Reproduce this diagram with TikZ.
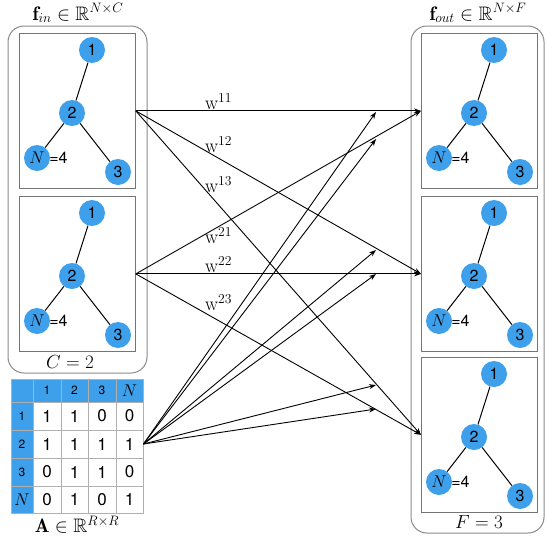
\RequirePackage{fix-cm}
\documentclass[tikz,border=0pt]{standalone}
\usepackage{amsmath,amssymb}
\usepackage{fontspec}
\setsansfont{TeX Gyre Heros}
\usetikzlibrary{arrows.meta,positioning,calc}
\definecolor{nodeblue}{HTML}{3E9FEB}
\definecolor{framegray}{HTML}{8A8A8A}
\definecolor{gridgray}{HTML}{B0B0B0}
\tikzset{
  outer/.style={draw=framegray, rounded corners=16pt, line width=1pt},
  panel/.style={draw=framegray!85!black, line width=0.8pt, minimum width=116pt, minimum height=155pt, inner sep=0pt, anchor=north west},
  vtx/.style={circle, fill=nodeblue, minimum size=26pt, inner sep=0pt, font=\sffamily\fontsize{16}{16}\selectfont},
  link/.style={black, line width=1pt},
  wire/.style={-{Stealth[length=7pt,width=5pt]}, black, line width=0.9pt},
  wlab/.style={font=\fontsize{19.5}{21}\selectfont, inner sep=1pt},
  mlab/.style={font=\fontsize{19}{21}\selectfont, inner sep=0pt},
  tlab/.style={font=\fontsize{19.5}{21}\selectfont, inner sep=0pt},
  cell/.style={minimum width=27.5pt, minimum height=28pt, inner sep=0pt, font=\sffamily\fontsize{17}{17}\selectfont},
  hcell/.style={inner sep=0pt, font=\sffamily\fontsize{12}{12}\selectfont},
}

\begin{document}
\begin{tikzpicture}[x=1pt,y=-1pt]
  \useasboundingbox (0,0) rectangle (546,541);

  % outer containers and their labels
  \draw[outer] (8,26) rectangle (147,373);
  \draw[outer] (411,26) rectangle (544,533);
  \node[tlab, anchor=base] (fin) at (78,20) {$\mathbf{f}_{in}\in\mathbb{R}^{N\times C}$};
  \node[tlab, anchor=base] (fout) at (478,20) {$\mathbf{f}_{out}\in\mathbb{R}^{N\times F}$};
  \node[mlab] (cnum) at (70,362) {$C=2$};
  \node[mlab] (fnum) at (479,522) {$F=3$};

  % one graph per channel
  \foreach \nm/\bx/\by in {L1/19/33, L2/19/196, R1/421/33, R2/421/196, R3/421/357}{
    \node[panel] (\nm) at (\bx,\by) {};
    \begin{scope}[shift={(\bx,\by)}]
      \node[vtx] (\nm-1) at (73,17) {1};
      \node[vtx] (\nm-2) at (53,80) {2};
      \node[vtx] (\nm-N) at (18,125) {\rmfamily\fontsize{17}{17}\selectfont$N$};
      \node[vtx] (\nm-3) at (99,139) {3};
    \end{scope}
    \node[anchor=west, inner sep=0pt, font=\sffamily\fontsize{16}{16}\selectfont] (\nm-n) at ([xshift=-1pt]\nm-N.east) {=4};
    \draw[link] (\nm-1) -- (\nm-2);
    \draw[link] (\nm-2) -- (\nm-N);
    \draw[link] (\nm-2) -- (\nm-3);
  }

  % adjacency matrix
  \fill[nodeblue] (11,379) rectangle (143,402);
  \fill[nodeblue] (11,379) rectangle (33,513);
  \foreach \y in {402,430,458,486} \draw[gridgray] (11,\y) -- (143,\y);
  \foreach \x in {33,61,88,116} \draw[gridgray] (\x,379) -- (\x,513);
  \draw[gridgray] (11,379) rectangle (143,513);
  \foreach \lab/\x [count=\j] in {1/47,2/74.5,3/102,{\fontsize{17}{17}\selectfont$N$}/129.5}
    \node[hcell] (h\j) at (\x,390.5) {\lab};
  \foreach \lab/\y/\a/\b/\c/\d [count=\i] in {1/416/1/1/0/0, 2/444/1/1/1/1, 3/472/0/1/1/0, {\fontsize{17}{17}\selectfont$N$}/499.5/0/1/0/1}{
    \node[hcell] (r\i) at (22,\y) {\lab};
    \node[cell] (a\i-1) at (47,\y) {\a};
    \node[cell] (a\i-2) at (74.5,\y) {\b};
    \node[cell] (a\i-3) at (102,\y) {\c};
    \node[cell] (a\i-4) at (129.5,\y) {\d};
  }
  \node[tlab] (alab) at (77,525) {$\mathbf{A}\in\mathbb{R}^{R\times R}$};

  % weights between channels
  \draw[wire] (L1.east) -- node[wlab, pos=.29, above] (w11) {$\mathrm{w}^{11}$} (R1.west);
  \draw[wire] (L1.east) -- node[wlab, pos=.29, above=4pt] (w12) {$\mathrm{w}^{12}$} (R2.west);
  \draw[wire] (L1.east) -- node[wlab, pos=.29, above=11pt] (w13) {$\mathrm{w}^{13}$} (R3.west);
  \draw[wire] (L2.east) -- node[wlab, pos=.29, below=0pt] (w21) {$\mathrm{w}^{21}$} (R1.west);
  \draw[wire] (L2.east) -- node[wlab, pos=.29, above] (w22) {$\mathrm{w}^{22}$} (R2.west);
  \draw[wire] (L2.east) -- node[wlab, pos=.29, above=8pt] (w23) {$\mathrm{w}^{23}$} (R3.west);

  % adjacency feeding the outputs
  \foreach \t/\y in {1/112, 2/139, 3/250, 4/274, 5/385, 6/409}{
    \coordinate (t\t) at (376,\y);
    \draw[wire] (a2-4.east) -- (t\t);
  }
\end{tikzpicture}
\end{document}
